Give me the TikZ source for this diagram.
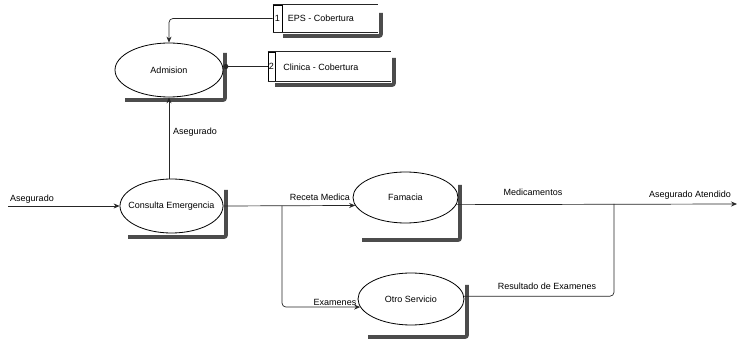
\documentclass[tikz,border=0pt]{standalone}
\usepackage{fontspec}
\setmainfont{Liberation Sans}
\usetikzlibrary{arrows.meta,shapes.geometric}
\begin{document}
\begin{tikzpicture}[x=1pt,y=-1pt,
  every node/.style={font=\fontsize{9}{10}\selectfont},
  proc/.style={draw, ellipse, fill=white, line width=0.8pt, inner sep=0pt},
  flow/.style={line width=0.7pt, draw=black!85, -{Stealth[length=6pt,width=5pt]}},
  plain/.style={line width=0.7pt, draw=black!85},
  shade/.style={line width=3.8pt, draw=black!70, rounded corners=2pt},
  lbl/.style={inner sep=0pt},
  cell/.style={draw, line width=0.7pt, inner sep=0pt}
]
\useasboundingbox[fill=white] (0,0) rectangle (740,339);

% drop shadows of processes and stores
\draw[shade] (225,53) -- (225,100) -- (125,100);
\draw[shade] (226,190) -- (226,237) -- (128,237);
\draw[shade] (460,185) -- (460,240) -- (362,240);
\draw[shade] (467,285) -- (467,337) -- (368,337);
\draw[shade] (381,13) -- (381,36) -- (283,36);
\draw[shade] (394,58) -- (394,85) -- (275,85);

% processes
\node[proc, minimum width=108pt, minimum height=54pt] (adm) at (169,70) {};
\node[lbl] (admtxt) at (adm.center) {Admision};
\node[proc, minimum width=103pt, minimum height=54pt] (con) at (171.5,206) {};
\node[lbl] (contxt) at (con.center) {Consulta Emergencia};
\node[proc, minimum width=105pt, minimum height=51pt] (far) at (405.5,197.5) {};
\node[lbl] (fartxt) at (far.center) {Famacia};
\node[proc, minimum width=106pt, minimum height=52pt] (otro) at (411,299) {};
\node[lbl] (otrotxt) at (otro.center) {Otro Servicio};

% data stores
\node[cell, minimum width=9pt, minimum height=27pt, fill=white] (s1) at (277.5,18.5) {1};
\draw[plain] (s1.north west) -- ++(105,0);
\draw[plain] (s1.south west) -- ++(105,0);
\node[lbl] (s1lab) at (321,18.5) {EPS - Cobertura};

\node[cell, minimum width=7pt, minimum height=29pt, fill=white] (s2) at (271.5,66.5) {2};
\draw[plain] (s2.north west) -- ++(123,0);
\draw[plain] (s2.south west) -- ++(123,0);
\node[lbl] (s2lab) at (321,67) {Clinica - Cobertura};

% free ends and junctions
\coordinate (src) at (8,206);
\coordinate (dst) at (737,204);
\coordinate (j1) at (282,206);
\coordinate (j2) at (614,204);

% flows
\draw[flow, rounded corners=4pt] (s1.west) -- (s1.west -| adm.north) -- (adm.north);
\draw[plain, -{Circle[length=5pt]}] (s2.west) -- (s2.west -| adm.east);
\draw[flow] (adm.south |- con.north) -- (adm.south);
\draw[flow] (src) -- (con.west);
\draw[flow] (con.east) -- (far.189.7);
\draw[flow, rounded corners=4pt] (j1) -- (j1 |- otro.189) -- (otro.189);
\draw[flow] (far.352.7) -- (dst);
\draw[plain, rounded corners=4pt] (otro.3) -- (otro.3 -| j2) -- (j2);

% flow labels
\node[lbl] (la1) at (195,132) {Asegurado};
\node[lbl] (la2) at (32,199) {Asegurado};
\node[lbl] (lrm) at (320,197) {Receta Medica};
\node[lbl] (lex) at (335,302) {Examenes};
\node[lbl] (lme) at (533,192) {Medicamentos};
\node[lbl] (laa) at (690,195) {Asegurado Atendido};
\node[lbl] (lre) at (547,286) {Resultado de Examenes};
\end{tikzpicture}
\end{document}
